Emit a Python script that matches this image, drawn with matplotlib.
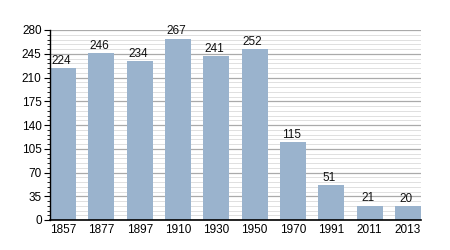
import matplotlib
matplotlib.use("Agg")
import matplotlib.pyplot as plt
from matplotlib.ticker import MultipleLocator

plt.rcParams['font.family'] = ['Liberation Sans', 'DejaVu Sans']

years = ["1857", "1877", "1897", "1910", "1930", "1950", "1970", "1991", "2011", "2013"]
values = [224, 246, 234, 267, 241, 252, 115, 51, 21, 20]
yticks = [0, 35, 70, 105, 140, 175, 210, 245, 280]

fig = plt.figure(figsize=(4.5, 2.5), dpi=100)
ax = fig.add_axes([50/450, 30/250, 371/450, 190/250])

bw = 0.68
x = range(len(years))
ax.bar(x, values, width=bw, color="#9ab3cd", zorder=2)
for i, v in zip(x, values):
    ax.text(i - 0.05, v + 2, str(v), ha="center", va="bottom", fontsize=8.5, color="#111111", zorder=3)

ax.set_xlim(-bw/2, len(years) - 1 + bw/2)
ax.set_ylim(0, 280)
ax.set_yticks(yticks)
ax.yaxis.set_minor_locator(MultipleLocator(7))
ax.set_xticks(list(x))
ax.set_xticklabels(years)
ax.grid(axis="y", which="major", color="#aaaaaa", linewidth=0.9, zorder=0)
ax.grid(axis="y", which="minor", color="#e0e0e0", linewidth=0.7, zorder=0)
ax.set_axisbelow(True)
for s in ["top", "right"]:
    ax.spines[s].set_visible(False)
ax.spines["left"].set_linewidth(1.0)
ax.spines["bottom"].set_linewidth(1.2)
ax.tick_params(axis="y", which="major", length=4, width=0.8, labelsize=8.5, pad=2)
ax.tick_params(axis="y", which="minor", length=2.5, width=0.6)
ax.tick_params(axis="x", length=0, labelsize=8.5, pad=3)

fig.savefig("out.png", dpi=100)
